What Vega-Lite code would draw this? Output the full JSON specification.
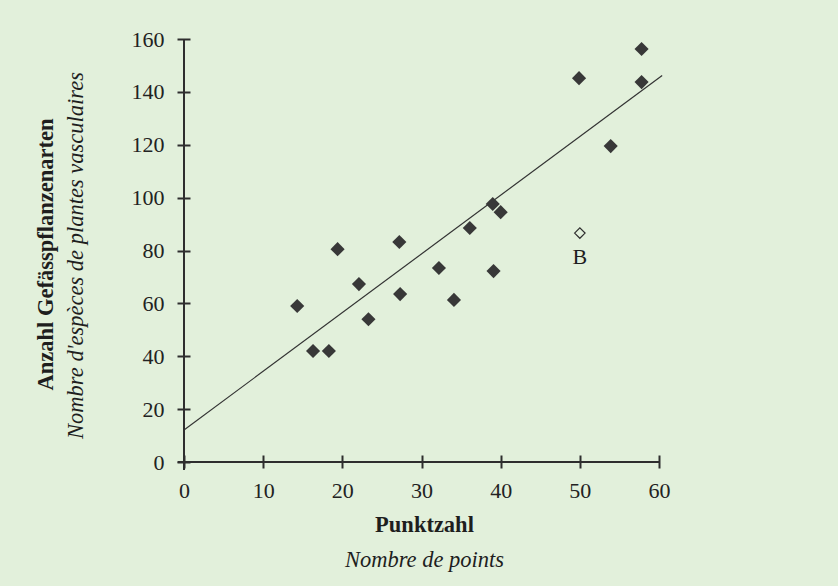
{
  "$schema": "https://vega.github.io/schema/vega-lite/v6.json",
  "width": 475,
  "height": 423,
  "autosize": "none",
  "padding": {"left": 184, "top": 39, "right": 179, "bottom": 124},
  "background": "#e2f0db",
  "config": {"view": {"stroke": null}, "font": "Liberation Serif"},
  "datasets": {
    "fit": [{"x": 0, "y": 12.1}, {"x": 60.4, "y": 146.2}],
    "filled": [
      {"points": 14.3, "species": 59},
      {"points": 16.3, "species": 42},
      {"points": 18.3, "species": 42},
      {"points": 19.4, "species": 80.5},
      {"points": 22.1, "species": 67.3},
      {"points": 23.3, "species": 54},
      {"points": 27.2, "species": 83.2},
      {"points": 27.3, "species": 63.5},
      {"points": 32.2, "species": 73.4},
      {"points": 34.1, "species": 61.3},
      {"points": 36.1, "species": 88.5},
      {"points": 39.0, "species": 97.6},
      {"points": 39.1, "species": 72.2},
      {"points": 40.0, "species": 94.5},
      {"points": 49.9, "species": 145.2},
      {"points": 53.9, "species": 119.5},
      {"points": 57.8, "species": 156.2},
      {"points": 57.8, "species": 143.7}
    ],
    "hollow": [{"points": 50.0, "species": 86.6, "label": "B"}],
    "xline": [{"x": -0.8, "x2": 60, "y": 0}],
    "yline": [{"x": 0, "y": -3, "y2": 160}]
  },
  "layer": [
    {
      "data": {"name": "fit"},
      "mark": {"type": "line", "color": "#333333", "strokeWidth": 1.2},
      "encoding": {
        "x": {
          "field": "x", "type": "quantitative",
          "scale": {"domain": [0, 60], "nice": false, "zero": false},
          "axis": {
            "orient": "bottom",
            "values": [0, 10, 20, 30, 40, 50, 60],
            "offset": -7, "domain": false, "grid": false,
            "tickSize": 13, "tickWidth": 2, "tickColor": "#2e2e2e",
            "labelFont": "Liberation Serif", "labelFontSize": 22, "labelColor": "#222222",
            "labelPadding": 12, "labelFlush": false, "labelOverlap": false,
            "title": "Punktzahl", "titleFont": "Liberation Serif", "titleFontSize": 22.5,
            "titleFontWeight": "bold", "titleColor": "#1e1e1e",
            "titleX": 240, "titleY": 76, "titleBaseline": "alphabetic", "titleAlign": "center"
          }
        },
        "y": {
          "field": "y", "type": "quantitative",
          "scale": {"domain": [0, 160], "nice": false},
          "axis": {
            "orient": "left",
            "values": [0, 20, 40, 60, 80, 100, 120, 140, 160],
            "offset": -6, "domain": false, "grid": false,
            "tickSize": 13, "tickWidth": 2, "tickColor": "#2e2e2e",
            "labelFont": "Liberation Serif", "labelFontSize": 22, "labelColor": "#222222",
            "labelPadding": 13, "labelOverlap": false,
            "title": "Anzahl Gefässpflanzenarten", "titleFont": "Liberation Serif", "titleFontSize": 22.5,
            "titleFontWeight": "bold", "titleColor": "#1e1e1e",
            "titleX": -138, "titleY": 215, "titleBaseline": "alphabetic", "titleAlign": "center", "titleAngle": -90
          }
        }
      }
    },
    {
      "data": {"name": "xline"},
      "mark": {"type": "rule", "color": "#2e2e2e", "strokeWidth": 2},
      "encoding": {
        "x": {
          "field": "x", "type": "quantitative",
          "axis": {
            "orient": "bottom", "ticks": false, "labels": false, "domain": false, "grid": false, "offset": 0,
            "title": "Nombre de points", "titleFont": "Liberation Serif", "titleFontSize": 22.5,
            "titleFontStyle": "italic", "titleFontWeight": "normal", "titleColor": "#1e1e1e",
            "titleX": 240, "titleY": 104, "titleBaseline": "alphabetic", "titleAlign": "center"
          }
        },
        "x2": {"field": "x2"},
        "y": {
          "field": "y", "type": "quantitative",
          "axis": {
            "orient": "left", "ticks": false, "labels": false, "domain": false, "grid": false, "offset": 0,
            "title": "Nombre d'espèces de plantes vasculaires", "titleFont": "Liberation Serif", "titleFontSize": 22.5,
            "titleFontStyle": "italic", "titleFontWeight": "normal", "titleColor": "#1e1e1e",
            "titleX": -102, "titleY": 216, "titleBaseline": "alphabetic", "titleAlign": "center", "titleAngle": -90
          }
        }
      }
    },
    {
      "data": {"name": "yline"},
      "mark": {"type": "rule", "color": "#2e2e2e", "strokeWidth": 2},
      "encoding": {
        "x": {"field": "x", "type": "quantitative", "axis": null},
        "y": {"field": "y", "type": "quantitative", "axis": null},
        "y2": {"field": "y2"}
      }
    },
    {
      "data": {"name": "filled"},
      "mark": {"type": "point", "shape": "diamond", "filled": true, "color": "#383838", "size": 200, "opacity": 1},
      "encoding": {
        "x": {"field": "points", "type": "quantitative", "axis": null},
        "y": {"field": "species", "type": "quantitative", "axis": null}
      }
    },
    {
      "data": {"name": "hollow"},
      "mark": {"type": "point", "shape": "diamond", "filled": false, "color": "#2e2e2e", "strokeWidth": 1.2, "size": 110, "opacity": 1},
      "encoding": {
        "x": {"field": "points", "type": "quantitative", "axis": null},
        "y": {"field": "species", "type": "quantitative", "axis": null}
      }
    },
    {
      "data": {"name": "hollow"},
      "mark": {"type": "text", "font": "Liberation Serif", "fontSize": 22, "color": "#1e1e1e", "dy": 24, "baseline": "middle", "align": "center"},
      "encoding": {
        "x": {"field": "points", "type": "quantitative", "axis": null},
        "y": {"field": "species", "type": "quantitative", "axis": null},
        "text": {"field": "label"}
      }
    }
  ],
  "resolve": {"axis": {"x": "independent", "y": "independent"}}
}
